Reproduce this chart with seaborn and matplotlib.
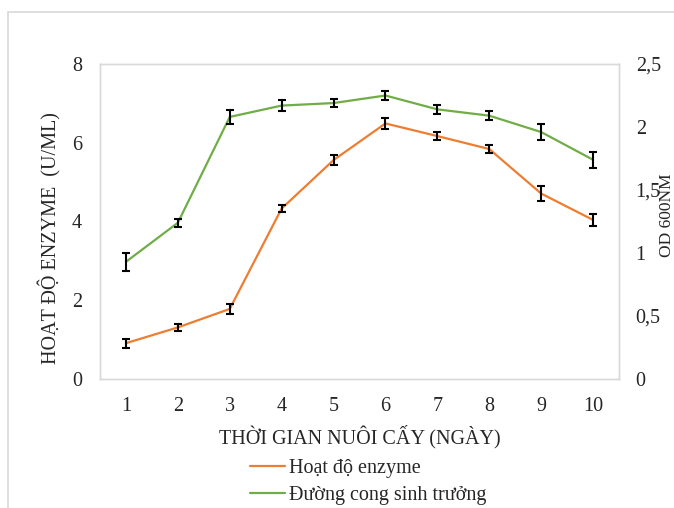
import numpy as np
import pandas as pd
import matplotlib
matplotlib.use("Agg")
import matplotlib.pyplot as plt
from matplotlib.patches import Rectangle
import seaborn as sns

# data
days = [1, 2, 3, 4, 5, 6, 7, 8, 9, 10]
enzyme = [0.91, 1.31, 1.78, 4.33, 5.56, 6.49, 6.17, 5.84, 4.71, 4.04]
enzyme_err = [0.11, 0.085, 0.12, 0.10, 0.13, 0.15, 0.11, 0.10, 0.19, 0.15]
od600 = [0.93, 1.24, 2.08, 2.17, 2.19, 2.25, 2.14, 2.09, 1.96, 1.74]
od600_err = [0.069, 0.032, 0.056, 0.042, 0.033, 0.036, 0.037, 0.036, 0.066, 0.062]

left_ticks = [0, 2, 4, 6, 8]
right_ticks = [0, 0.5, 1, 1.5, 2, 2.5]
right_ticklabels = ["0", "0,5", "1", "1,5", "2", "2,5"]

ORANGE = "#ED7D31"
GREEN = "#70AD47"
BORDER = "#D9D9D9"
TXT = "#262626"
FS = 14.5

sns.set_theme(style="white")
plt.rcParams['font.family'] = ['Liberation Serif', 'DejaVu Serif']
plt.rcParams['font.size'] = FS

df = pd.DataFrame({'day': days, 'enzyme': enzyme, 'od': od600})
df['pos'] = np.arange(len(days))

fig = plt.figure(figsize=(6.74, 5.08), dpi=100)
ax = fig.add_axes([100 / 674, 1 - 379 / 508, 519 / 674, 315 / 508])
ax2 = ax.twinx()

# orange line (left axis)
sns.lineplot(data=df, x='pos', y='enzyme', ax=ax, color=ORANGE, lw=1.6,
             label='Hoạt độ enzyme', legend=False)
ax.errorbar(df['pos'], df['enzyme'], yerr=enzyme_err, fmt='none', ecolor='black',
            elinewidth=1.5, capsize=3.2, capthick=1.5, zorder=3)

# green line (right axis)
sns.lineplot(data=df, x='pos', y='od', ax=ax2, color=GREEN, lw=1.6,
             label='Đường cong sinh trưởng', legend=False)
ax2.errorbar(df['pos'], df['od'], yerr=od600_err, fmt='none', ecolor='black',
             elinewidth=1.5, capsize=3.2, capthick=1.5, zorder=3)

ax.set_xlim(-0.5, len(days) - 0.5)
ax.set_ylim(0, 8)
ax2.set_ylim(0, 2.5)
ax.set_xticks(df['pos'])
ax.set_xticklabels([str(d) for d in days])
ax.set_yticks(left_ticks)
ax2.set_yticks(right_ticks)
ax2.set_yticklabels(right_ticklabels)

ax.tick_params(axis='both', length=0, labelsize=FS, colors=TXT)
ax.tick_params(axis='x', pad=13)
ax.tick_params(axis='y', pad=13)
ax2.tick_params(axis='y', length=0, labelsize=FS, pad=12, colors=TXT)

for a in (ax, ax2):
    for s in a.spines.values():
        s.set_color(BORDER)
        s.set_linewidth(1)

ax.set_xlabel('')
ax.set_ylabel('')
ax2.set_ylabel('')
fig.text(359.5 / 674, 1 - 437 / 508, 'THỜI GIAN NUÔI CẤY (NGÀY)', ha='center', va='center',
         fontsize=FS, color=TXT)
fig.text(50 / 674, 1 - 238 / 508, 'HOẠT ĐỘ ENZYME  (U/ML)', rotation=90, ha='center',
         va='center', fontsize=FS, color=TXT)
fig.text(667 / 674, 1 - 215 / 508, 'OD 600NM', rotation=90, ha='center', va='center',
         fontsize=12.5, color=TXT)

# legend below the plot
h1 = ax.get_lines()[0]
h2 = ax2.get_lines()[0]
fig.legend([h1, h2], ['Hoạt độ enzyme', 'Đường cong sinh trưởng'],
           loc='upper left', bbox_to_anchor=(250 / 674, 1 - 459 / 508),
           frameon=False, fontsize=FS, handlelength=1.75, handletextpad=0.2,
           labelspacing=0.38, borderpad=0, borderaxespad=0)

# outer chart border
fig.patches.append(Rectangle((8 / 674, -0.1), 1.0, 1 - 12 / 508 + 0.1,
                             transform=fig.transFigure, fill=False,
                             edgecolor=BORDER, lw=1.2))

fig.savefig('out.png', dpi=100)
